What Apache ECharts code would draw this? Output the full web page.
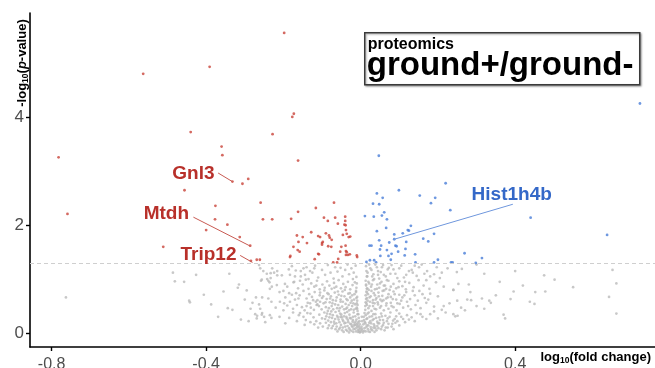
<!DOCTYPE html>
<html>
<head>
<meta charset="utf-8">
<script src="https://cdn.jsdelivr.net/npm/echarts@6/dist/echarts.min.js"></script>
<style>
html, body { margin: 0; padding: 0; background: #fff; }
#volcano-box { width: 655px; height: 368px; }
</style>
</head>
<body>
<div id="volcano-box"></div>
<script>
// tick labels
var xTicks = [-0.8, -0.4, 0.0, 0.4];
var yTicks = [0, 2, 4];
var pThreshold = 1.301;

// down-regulated (p < 0.05, fc < 0)
var downPoints = [
    [-0.563, 4.81], [-0.391, 4.94], [-0.198, 5.57], [-0.44, 3.73], [-0.782, 3.26], [-0.456, 2.65],
    [-0.759, 2.21], [-0.511, 1.60], [-0.36, 3.46], [-0.358, 3.30], [-0.228, 3.69], [-0.173, 4.07],
    [-0.177, 4.01], [-0.162, 3.20], [-0.332, 2.81], [-0.306, 2.77], [-0.291, 2.86], [-0.259, 2.42],
    [-0.376, 2.36], [-0.377, 2.11], [-0.345, 2.01], [-0.253, 2.11], [-0.229, 2.11], [-0.18, 2.12],
    [-0.162, 2.25], [-0.40, 1.91], [-0.313, 1.78], [-0.286, 1.62], [-0.128, 1.87], [-0.165, 1.81],
    [-0.161, 1.69], [-0.139, 1.67], [-0.174, 1.60], [-0.163, 1.54], [-0.158, 1.51], [-0.182, 1.43],
    [-0.183, 1.41], [-0.284, 1.34], [-0.269, 1.36], [-0.261, 1.36], [-0.069, 2.42], [-0.116, 2.32],
    [-0.095, 2.14], [-0.085, 2.08], [-0.066, 2.14], [-0.04, 2.16], [-0.04, 2.08], [-0.059, 2.03],
    [-0.039, 2.0], [-0.038, 1.91], [-0.09, 1.85], [-0.11, 1.80], [-0.08, 1.77], [-0.075, 1.73],
    [-0.046, 1.82], [-0.031, 1.78], [-0.1, 1.67], [-0.084, 1.61], [-0.076, 1.60], [-0.05, 1.60],
    [-0.11, 1.47], [-0.108, 1.46], [-0.038, 1.52], [-0.028, 1.46], [-0.038, 1.45], [-0.053, 1.51],
    [-0.119, 1.37], [-0.058, 1.375], [-0.009, 1.41], [-0.071, 1.31], [-0.061, 1.31], [-0.15, 1.78],
    [-0.105, 1.78], [-0.098, 1.69], [-0.1, 1.64], [-0.042, 2.01], [-0.036, 1.84], [-0.027, 1.79],
    [-0.039, 1.62], [-0.036, 1.50], [-0.033, 1.45], [-0.01, 1.44], [-0.082, 1.81]
];

// up-regulated (p < 0.05, fc > 0)
var upPoints = [
    [0.047, 3.29], [0.042, 2.59], [0.057, 2.51], [0.032, 2.40], [0.048, 2.39], [0.061, 2.24],
    [0.099, 2.65], [0.011, 2.17], [0.034, 2.16], [0.068, 2.11], [0.066, 1.95], [0.042, 1.89],
    [0.13, 1.99], [0.122, 1.91], [0.125, 1.90], [0.109, 1.85], [0.087, 1.74], [0.074, 1.68],
    [0.09, 1.62], [0.093, 1.61], [0.068, 1.54], [0.08, 1.47], [0.048, 1.72], [0.023, 1.62],
    [0.028, 1.62], [0.053, 1.62], [0.116, 1.56], [0.114, 1.44], [0.097, 1.51], [0.072, 1.43],
    [0.051, 1.43], [0.035, 1.35], [0.04, 1.31], [0.142, 1.31], [0.078, 1.36], [0.220, 2.78],
    [0.153, 2.55], [0.193, 2.51], [0.182, 2.41], [0.232, 2.28], [0.055, 2.18], [0.087, 1.83],
    [0.19, 1.84], [0.162, 1.75], [0.175, 1.70], [0.118, 1.69], [0.141, 1.46], [0.024, 1.35],
    [0.19, 1.31], [0.2, 1.36], [0.234, 1.31], [0.238, 1.31], [0.723, 4.26], [0.44, 2.14],
    [0.638, 1.82], [0.269, 1.48], [0.314, 1.39], [0.298, 1.30], [0.015, 1.32], [0.05, 1.55]
];

// not significant
var nsPoints = [
    // outer left
    [-0.763, 0.66], [-0.486, 1.12], [-0.481, 0.96], [-0.457, 0.95], [-0.426, 1.08], [-0.444, 0.60],
    [-0.442, 0.57], [-0.406, 0.71], [-0.387, 0.53], [-0.369, 0.30], [-0.34, 1.10], [-0.344, 0.46],
    [-0.332, 0.43], [-0.315, 0.90], [-0.318, 0.84], [-0.295, 0.79], [-0.271, 0.66], [-0.263, 0.53],
    [-0.273, 0.35], [-0.268, 0.32], [-0.256, 0.34], [-0.252, 1.15], [-0.243, 1.10], [-0.258, 0.97],
    [-0.239, 0.97], [-0.233, 1.02], [-0.224, 1.12], [-0.216, 1.15], [-0.263, 1.26], [-0.26, 1.20],
    [-0.229, 1.20], [-0.233, 1.11], [-0.216, 1.07], [-0.204, 1.07], [-0.186, 1.18], [-0.183, 1.08],
    [-0.256, 0.99], [-0.242, 1.0], [-0.236, 0.94], [-0.235, 0.82], [-0.23, 0.86], [-0.255, 0.66],
    [-0.239, 0.64], [-0.231, 0.58], [-0.269, 0.27], [-0.255, 0.37], [-0.25, 0.30], [-0.235, 0.33],
    [-0.231, 0.28], [-0.209, 0.58], [-0.198, 0.55], [-0.19, 0.51], [-0.183, 0.58], [-0.178, 0.71],
    [-0.167, 0.74], [-0.161, 0.64], [-0.21, 0.76], [-0.2, 0.78], [-0.217, 0.89], [-0.196, 0.91],
    [-0.174, 0.94], [-0.157, 0.97], [-0.148, 1.20], [-0.144, 1.08], [-0.131, 1.15], [-0.157, 0.37],
    [-0.148, 0.30], [-0.138, 0.37], [-0.131, 0.55], [-0.123, 0.61], [-0.114, 0.52], [-0.105, 0.58],
    [-0.3, 0.62], [-0.285, 0.45], [-0.31, 0.25], [-0.29, 0.22], [-0.247, 0.2], [-0.355, 0.77],
    [-0.175, 0.38], [-0.2, 0.42], [-0.22, 0.47], [-0.26, 0.45], [-0.28, 0.56], [-0.21, 0.3],
    [-0.195, 0.18], [-0.17, 1.05], [-0.155, 1.15], [-0.135, 1.0], [-0.12, 1.2],
    // left cloud
    [-0.178, 1.24], [-0.168, 1.16], [-0.155, 1.05], [-0.14, 1.22], [-0.125, 1.12], [-0.118, 1.25],
    [-0.11, 1.03], [-0.1, 1.17], [-0.092, 1.08], [-0.085, 1.26], [-0.078, 1.12], [-0.07, 1.01],
    [-0.066, 1.22], [-0.06, 1.14], [-0.052, 1.21], [-0.047, 1.05], [-0.04, 1.17], [-0.034, 1.27],
    [-0.03, 1.09], [-0.024, 1.2], [-0.018, 1.12], [-0.013, 1.25], [-0.011, 1.04], [-0.02, 1.0],
    [-0.19, 0.86], [-0.172, 0.95], [-0.162, 0.83], [-0.15, 0.9], [-0.142, 0.99], [-0.135, 0.82],
    [-0.128, 0.92], [-0.12, 0.86], [-0.113, 0.97], [-0.106, 0.81], [-0.099, 0.9], [-0.093, 0.84],
    [-0.087, 0.96], [-0.081, 0.88], [-0.075, 0.82], [-0.069, 0.93], [-0.063, 0.86], [-0.057, 0.98],
    [-0.051, 0.83], [-0.045, 0.91], [-0.039, 0.85], [-0.033, 0.95], [-0.027, 0.81], [-0.021, 0.89],
    [-0.015, 0.94], [-0.011, 0.84], [-0.01, 0.92], [-0.195, 0.66], [-0.185, 0.74], [-0.17, 0.62],
    [-0.158, 0.7], [-0.148, 0.78], [-0.14, 0.64], [-0.133, 0.72], [-0.126, 0.67], [-0.119, 0.76],
    [-0.112, 0.61], [-0.106, 0.7], [-0.1, 0.65], [-0.094, 0.79], [-0.088, 0.63], [-0.083, 0.72],
    [-0.077, 0.68], [-0.072, 0.61], [-0.067, 0.75], [-0.062, 0.66], [-0.057, 0.71], [-0.052, 0.62],
    [-0.047, 0.77], [-0.042, 0.68], [-0.037, 0.63], [-0.032, 0.73], [-0.027, 0.66], [-0.022, 0.7],
    [-0.017, 0.62], [-0.012, 0.76], [-0.009, 0.67], [-0.009, 0.6], [-0.175, 0.45], [-0.165, 0.52],
    [-0.152, 0.48], [-0.145, 0.42], [-0.137, 0.56], [-0.129, 0.47], [-0.121, 0.43], [-0.116, 0.58],
    [-0.108, 0.5], [-0.101, 0.44], [-0.096, 0.55], [-0.09, 0.48], [-0.085, 0.41], [-0.08, 0.57],
    [-0.075, 0.5], [-0.071, 0.44], [-0.066, 0.53], [-0.061, 0.46], [-0.056, 0.41], [-0.052, 0.58],
    [-0.048, 0.49], [-0.043, 0.44], [-0.039, 0.54], [-0.035, 0.47], [-0.03, 0.42], [-0.026, 0.56],
    [-0.022, 0.5], [-0.018, 0.43], [-0.014, 0.53], [-0.01, 0.47], [-0.008, 0.41], [-0.008, 0.52],
    [-0.058, 0.52], [-0.082, 0.46], [-0.112, 0.53], [-0.14, 0.5], [-0.185, 0.28], [-0.16, 0.33],
    [-0.142, 0.24], [-0.13, 0.36], [-0.122, 0.29], [-0.115, 0.22], [-0.107, 0.34], [-0.1, 0.27],
    [-0.094, 0.38], [-0.089, 0.31], [-0.084, 0.23], [-0.079, 0.35], [-0.074, 0.28], [-0.069, 0.21],
    [-0.065, 0.39], [-0.061, 0.32], [-0.057, 0.25], [-0.053, 0.36], [-0.049, 0.29], [-0.045, 0.22],
    [-0.041, 0.37], [-0.037, 0.3], [-0.033, 0.24], [-0.029, 0.34], [-0.025, 0.27], [-0.021, 0.21],
    [-0.018, 0.38], [-0.014, 0.31], [-0.011, 0.25], [-0.008, 0.35], [-0.005, 0.28], [-0.003, 0.22],
    [-0.076, 0.4], [-0.052, 0.3], [-0.035, 0.39], [-0.02, 0.3], [-0.12, 0.16], [-0.098, 0.12],
    [-0.09, 0.19], [-0.082, 0.14], [-0.075, 0.09], [-0.068, 0.17], [-0.062, 0.12], [-0.056, 0.07],
    [-0.051, 0.15], [-0.046, 0.1], [-0.042, 0.18], [-0.038, 0.06], [-0.034, 0.13], [-0.03, 0.09],
    [-0.027, 0.17], [-0.024, 0.04], [-0.021, 0.11], [-0.018, 0.07], [-0.015, 0.15], [-0.012, 0.03],
    [-0.01, 0.1], [-0.007, 0.06], [-0.005, 0.13], [-0.003, 0.02], [-0.001, 0.08], [-0.06, 0.03],
    [-0.044, 0.02], [-0.03, 0.01], [-0.016, 0.19], [-0.008, 0.17],
    [-0.115, 0.88], [-0.105, 0.75], [-0.097, 0.68], [-0.091, 0.57], [-0.086, 0.74], [-0.079, 0.64],
    [-0.073, 0.55], [-0.068, 0.84], [-0.064, 0.6], [-0.059, 0.77], [-0.054, 0.46], [-0.05, 0.69],
    [-0.046, 0.58], [-0.041, 0.8], [-0.038, 0.45], [-0.034, 0.61], [-0.031, 0.52], [-0.028, 0.74],
    [-0.025, 0.44], [-0.023, 0.6], [-0.019, 0.55], [-0.016, 0.72], [-0.013, 0.45], [-0.011, 0.65],
    [-0.01, 0.55], [-0.012, 0.78], [-0.009, 0.45], [-0.006, 0.35], [-0.092, 0.26], [-0.087, 0.36],
    [-0.081, 0.29], [-0.077, 0.2], [-0.072, 0.33], [-0.066, 0.26], [-0.063, 0.18], [-0.059, 0.29],
    [-0.055, 0.2], [-0.05, 0.34], [-0.047, 0.25], [-0.043, 0.31], [-0.039, 0.19], [-0.036, 0.27],
    [-0.032, 0.2], [-0.028, 0.28], [-0.024, 0.16], [-0.02, 0.24], [-0.017, 0.14], [-0.013, 0.21],
    [-0.009, 0.13], [-0.006, 0.2], [-0.004, 0.1], [-0.002, 0.16], [-0.053, 0.1], [-0.048, 0.05],
    [-0.04, 0.12], [-0.035, 0.04], [-0.028, 0.06], [-0.023, 0.13], [-0.019, 0.02], [-0.014, 0.08],
    [-0.011, 0.16], [-0.007, 0.02], [-0.004, 0.05], [-0.002, 0.01], [-0.065, 0.07], [-0.072, 0.13],
    [-0.085, 0.09], [-0.105, 0.18], [-0.11, 0.1], [-0.13, 0.2], [-0.145, 0.15], [-0.165, 0.22],
    // right cloud
    [0.014, 1.24], [0.018, 1.12], [0.025, 1.2], [0.03, 1.05], [0.038, 1.27], [0.045, 1.15],
    [0.055, 1.22], [0.06, 1.08], [0.07, 1.18], [0.08, 1.26], [0.09, 1.1], [0.1, 1.2],
    [0.112, 1.03], [0.125, 1.15], [0.14, 1.25], [0.151, 1.22], [0.165, 1.1], [0.18, 1.05],
    [0.197, 1.22], [0.21, 1.12], [0.249, 1.13], [0.262, 1.19], [0.3, 1.27], [0.035, 1.0],
    [0.015, 1.15], [0.016, 1.05], [0.022, 1.27], [0.028, 1.17], [0.033, 1.09], [0.042, 1.22],
    [0.048, 1.01], [0.052, 1.13], [0.058, 1.26], [0.065, 1.05], [0.073, 1.21], [0.077, 1.1],
    [0.085, 1.18], [0.095, 1.02], [0.105, 1.25], [0.118, 1.08], [0.132, 1.17], [0.145, 1.06],
    [0.158, 1.27], [0.172, 1.15], [0.19, 1.09], [0.225, 1.2], [0.014, 0.9], [0.013, 0.97],
    [0.017, 0.83], [0.022, 0.92], [0.027, 0.86], [0.032, 0.98], [0.037, 0.81], [0.043, 0.9],
    [0.048, 0.84], [0.054, 0.95], [0.06, 0.88], [0.066, 0.82], [0.072, 0.97], [0.078, 0.86],
    [0.085, 0.91], [0.092, 0.83], [0.1, 0.96], [0.108, 0.87], [0.117, 0.81], [0.126, 0.93],
    [0.137, 0.85], [0.15, 0.98], [0.163, 0.88], [0.178, 0.82], [0.195, 0.94], [0.215, 0.86],
    [0.24, 0.8], [0.253, 0.91], [0.013, 0.7], [0.015, 0.77], [0.014, 0.63], [0.019, 0.72],
    [0.023, 0.66], [0.028, 0.78], [0.032, 0.61], [0.037, 0.7], [0.041, 0.65], [0.046, 0.75],
    [0.051, 0.62], [0.056, 0.69], [0.061, 0.79], [0.066, 0.64], [0.072, 0.72], [0.078, 0.67],
    [0.085, 0.77], [0.092, 0.62], [0.1, 0.71], [0.108, 0.66], [0.118, 0.76], [0.128, 0.63],
    [0.14, 0.7], [0.152, 0.78], [0.166, 0.65], [0.18, 0.73], [0.2, 0.68], [0.276, 0.62],
    [0.286, 0.61], [0.284, 0.76], [0.314, 0.64], [0.396, 0.77], [0.452, 0.76], [0.478, 0.77],
    [0.643, 0.67], [0.388, 0.63], [0.333, 0.60], [0.012, 0.5], [0.013, 0.57], [0.012, 0.43],
    [0.016, 0.52], [0.02, 0.46], [0.024, 0.58], [0.028, 0.41], [0.032, 0.5], [0.036, 0.55],
    [0.04, 0.44], [0.045, 0.53], [0.05, 0.47], [0.055, 0.59], [0.06, 0.42], [0.066, 0.51],
    [0.072, 0.45], [0.078, 0.56], [0.085, 0.48], [0.093, 0.42], [0.101, 0.54], [0.11, 0.47],
    [0.12, 0.58], [0.13, 0.44], [0.142, 0.52], [0.155, 0.46], [0.17, 0.56], [0.19, 0.49],
    [0.21, 0.43], [0.23, 0.55], [0.26, 0.47], [0.337, 0.56], [0.438, 0.58], [0.45, 0.54],
    [0.3, 0.5], [0.003, 0.3], [0.01, 0.37], [0.009, 0.24], [0.013, 0.33], [0.017, 0.27],
    [0.021, 0.38], [0.025, 0.22], [0.029, 0.31], [0.034, 0.26], [0.038, 0.35], [0.043, 0.21],
    [0.048, 0.29], [0.053, 0.36], [0.058, 0.24], [0.064, 0.32], [0.07, 0.27], [0.077, 0.38],
    [0.084, 0.23], [0.092, 0.31], [0.1, 0.36], [0.11, 0.26], [0.12, 0.33], [0.132, 0.29],
    [0.145, 0.37], [0.16, 0.3], [0.18, 0.35], [0.251, 0.32], [0.245, 0.31], [0.24, 0.35],
    [0.37, 0.34], [0.374, 0.27], [0.662, 0.36], [0.2, 0.27], [0.002, 0.12], [0.004, 0.05],
    [0.007, 0.16], [0.01, 0.09], [0.013, 0.03], [0.016, 0.14], [0.019, 0.07], [0.022, 0.19],
    [0.026, 0.11], [0.03, 0.05], [0.034, 0.16], [0.038, 0.09], [0.043, 0.13], [0.048, 0.18],
    [0.053, 0.07], [0.058, 0.15], [0.065, 0.1], [0.072, 0.17], [0.08, 0.12], [0.09, 0.19],
    [0.1, 0.14], [0.012, 0.18], [0.024, 0.02], [0.036, 0.02], [0.006, 0.01], [0.001, 0.03],
    [0.475, 1.07], [0.502, 0.99], [0.652, 1.17], [0.662, 0.92], [0.24, 0.80],
    [0.016, 0.82], [0.016, 0.65], [0.015, 0.55], [0.014, 0.88], [0.016, 0.75], [0.018, 0.6],
    [0.021, 0.8], [0.023, 0.5], [0.026, 0.68], [0.029, 0.9], [0.031, 0.56], [0.034, 0.74],
    [0.036, 0.45], [0.039, 0.62], [0.042, 0.82], [0.044, 0.57], [0.047, 0.68], [0.05, 0.92],
    [0.053, 0.5], [0.057, 0.78], [0.059, 0.61], [0.063, 0.88], [0.067, 0.55], [0.07, 0.66],
    [0.075, 0.8], [0.08, 0.5], [0.083, 0.63], [0.088, 0.72], [0.095, 0.55], [0.098, 0.85],
    [0.105, 0.6], [0.113, 0.7], [0.123, 0.5], [0.135, 0.78], [0.148, 0.6], [0.16, 0.72],
    [0.175, 0.62], [0.004, 0.22], [0.008, 0.3], [0.011, 0.2], [0.015, 0.26], [0.018, 0.36],
    [0.02, 0.14], [0.023, 0.3], [0.027, 0.18], [0.031, 0.24], [0.033, 0.35], [0.036, 0.13],
    [0.04, 0.28], [0.045, 0.18], [0.05, 0.24], [0.055, 0.31], [0.06, 0.19], [0.068, 0.22],
    [0.075, 0.3], [0.082, 0.17], [0.088, 0.26], [0.095, 0.22], [0.105, 0.3], [0.115, 0.2],
    [0.125, 0.25], [0.14, 0.22], [0.155, 0.35], [0.17, 0.26], [0.19, 0.4], [0.22, 0.38],
    [0.215, 0.5], [0.25, 0.6], [0.27, 0.42], [0.32, 0.45], [0.35, 0.7], [0.003, 0.08],
    [0.009, 0.04], [0.015, 0.11], [0.02, 0.03], [0.027, 0.07], [0.033, 0.1], [0.041, 0.05],
    [0.046, 0.09], [0.055, 0.12], [0.062, 0.05], [0.07, 0.1], [0.085, 0.07], [0.017, 1.05],
    [0.02, 0.95], [0.045, 1.08], [0.068, 0.98], [0.115, 0.95], [0.135, 1.12], [0.17, 0.98],
    [0.205, 1.02], [0.28, 0.9], [0.32, 1.1], [0.36, 0.95], [0.4, 1.15], [0.42, 0.88], [0.55, 0.85]
];

// labelled proteins: [name, label x, label y, line from x, y, line to x, y]
var labelled = [
    ['Gnl3', -0.433, 2.965, -0.369, 2.97, -0.332, 2.81],
    ['Mtdh', -0.503, 2.21, -0.433, 2.15, -0.285, 1.61],
    ['Trip12', -0.394, 1.46, -0.312, 1.44, -0.28, 1.31],
    ['Hist1h4b', 0.391, 2.565, 0.394, 2.39, 0.087, 1.74]
];

var redColor = '#c9433a';
var redText = '#b8302a';
var blueColor = '#4a7ed8';
var blueText = '#3468c8';

function annotations(rows, lineColor, textColor) {
    return {
        line: {
            silent: true,
            symbol: ['none', 'none'],
            label: { show: false },
            lineStyle: { color: lineColor, width: 1, type: 'solid' },
            emphasis: { disabled: true },
            data: rows.map(function (r) {
                return [{ coord: [r[3], r[4]] }, { coord: [r[5], r[6]] }];
            })
        },
        point: {
            silent: true,
            symbol: 'circle',
            symbolSize: 1,
            itemStyle: { color: 'rgba(0,0,0,0)' },
            label: {
                show: true,
                position: 'inside',
                formatter: '{b}',
                color: textColor,
                fontFamily: 'Liberation Sans, Arial, sans-serif',
                fontWeight: 'bold',
                fontSize: 19
            },
            data: rows.map(function (r) {
                return { name: r[0], coord: [r[1], r[2]] };
            })
        }
    };
}

var redAnn = annotations(labelled.slice(0, 3), '#c85a52', redText);
var blueAnn = annotations(labelled.slice(3), '#6f97dd', blueText);

var axisFont = 'Liberation Sans, Arial, sans-serif';
var subStyle = { fontFamily: axisFont, fontWeight: 'bold', fontSize: 8.5, lineHeight: 10, verticalAlign: 'bottom', fill: '#000' };

var option = {
    animation: false,
    grid: { left: 30, right: 0, top: 13, bottom: 21, outerBoundsMode: 'none', containLabel: false },
    xAxis: {
        type: 'value',
        min: -0.856,
        max: 0.762,
        splitLine: { show: false },
        axisLine: { onZero: false, lineStyle: { color: '#000', width: 1.6 } },
        axisTick: { customValues: xTicks, length: 4, lineStyle: { color: '#000', width: 1.4 } },
        axisLabel: {
            customValues: xTicks,
            margin: 10,
            color: '#4d4d4d',
            fontSize: 16,
            fontFamily: axisFont,
            formatter: function (v) { return v.toFixed(1); }
        }
    },
    yAxis: {
        type: 'value',
        min: -0.26,
        max: 5.94,
        splitLine: { show: false },
        axisLine: { onZero: false, lineStyle: { color: '#000', width: 1.6 } },
        axisTick: { customValues: yTicks, length: 4, lineStyle: { color: '#000', width: 1.4 } },
        axisLabel: {
            customValues: yTicks,
            margin: 6,
            color: '#4d4d4d',
            fontSize: 17,
            fontFamily: axisFont
        }
    },
    series: [{
        name: 'ns',
        type: 'scatter',
        symbolSize: 2.7,
        itemStyle: { color: '#bababa' },
        data: nsPoints,
        markLine: {
            silent: true,
            symbol: ['none', 'none'],
            label: { show: false },
            lineStyle: { color: '#cfcfcf', width: 1, type: [4, 3] },
            data: [{ yAxis: pThreshold }]
        }
    }, {
        name: 'down',
        type: 'scatter',
        symbolSize: 2.8,
        itemStyle: { color: redColor },
        data: downPoints,
        markLine: redAnn.line,
        markPoint: redAnn.point
    }, {
        name: 'up',
        type: 'scatter',
        symbolSize: 2.8,
        itemStyle: { color: blueColor },
        data: upPoints,
        markLine: blueAnn.line,
        markPoint: blueAnn.point
    }],
    graphic: [{
        // y axis name
        type: 'text',
        x: 22,
        y: 63,
        rotation: Math.PI / 2,
        style: {
            text: '{b|-log}{s|10}{b|(}{i|p}{b|-value)}',
            align: 'center',
            verticalAlign: 'middle',
            rich: {
                b: { fontFamily: axisFont, fontWeight: 'bold', fontSize: 13, lineHeight: 16, fill: '#000' },
                i: { fontFamily: axisFont, fontWeight: 'bold', fontStyle: 'italic', fontSize: 13, lineHeight: 16, fill: '#000' },
                s: subStyle
            }
        }
    }, {
        // x axis name
        type: 'text',
        x: 651,
        y: 357,
        style: {
            text: '{b|log}{s|10}{b|(fold change)}',
            align: 'right',
            verticalAlign: 'middle',
            rich: {
                b: { fontFamily: axisFont, fontWeight: 'bold', fontSize: 13, lineHeight: 16, fill: '#000' },
                s: subStyle
            }
        }
    }, {
        // title box
        type: 'group',
        left: 364,
        top: 32,
        children: [{
            type: 'rect',
            shape: { x: 0, y: 0, width: 275, height: 52 },
            style: {
                fill: '#fff',
                stroke: '#3a3a3a',
                lineWidth: 1.5,
                shadowBlur: 2,
                shadowOffsetX: 1,
                shadowOffsetY: 1,
                shadowColor: 'rgba(0,0,0,0.35)'
            }
        }, {
            type: 'text',
            x: 3,
            y: 12,
            style: {
                text: 'proteomics',
                fontFamily: axisFont,
                fontWeight: 'bold',
                fontSize: 16,
                fill: '#000',
                verticalAlign: 'middle'
            }
        }, {
            type: 'text',
            x: 2,
            y: 33,
            style: {
                text: 'ground+/ground-',
                fontFamily: axisFont,
                fontWeight: 'bold',
                fontSize: 33,
                fill: '#000',
                verticalAlign: 'middle'
            }
        }]
    }]
};

var chart = echarts.init(document.getElementById('volcano-box'));
chart.setOption(option);
</script>
</body>
</html>
